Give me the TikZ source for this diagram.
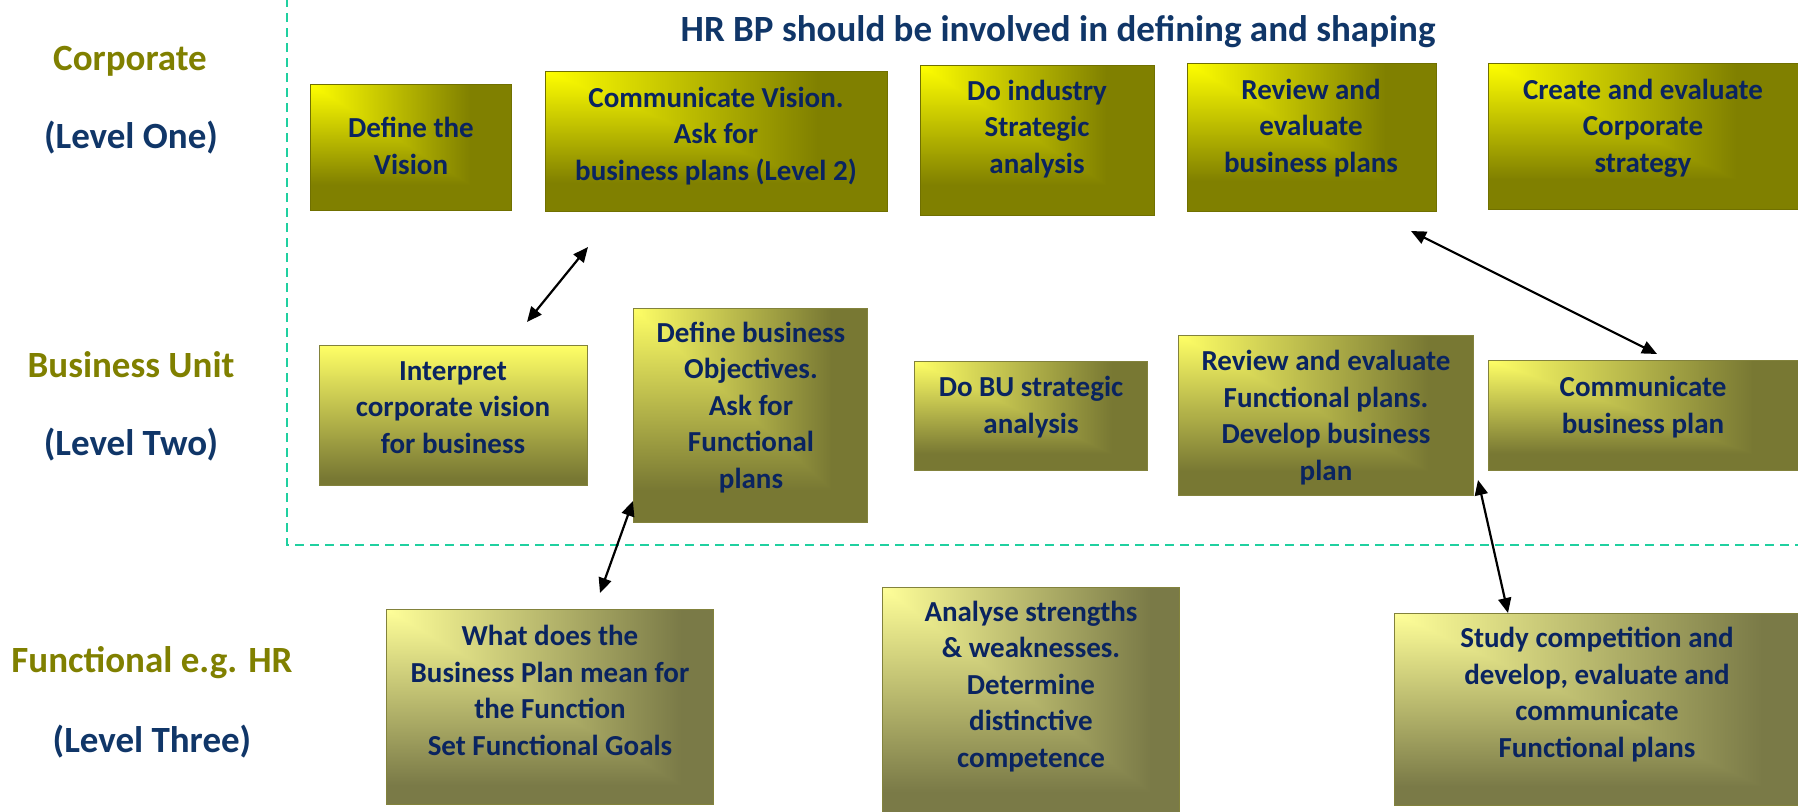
\documentclass[tikz,border=0pt]{standalone}
\usepackage{fontspec}
\setmainfont{Carlito}
\usetikzlibrary{arrows.meta}

% Rectangular "from corner" gradients: light at the top-left corner,
% dark along the right and bottom edges (t = max(u,v)).
\pgfdeclarefunctionalshading{cornerA}{\pgfpoint{0bp}{0bp}}{\pgfpoint{100bp}{100bp}}{}{
 75 exch sub 50 div exch 25 sub 50 div
 2 copy lt {exch} if pop
 0.8 div dup 1 gt {pop 1} if dup 0 lt {pop 0} if
 0.5 mul 1 exch sub dup 0
}
\pgfdeclarefunctionalshading{cornerB}{\pgfpoint{0bp}{0bp}}{\pgfpoint{100bp}{100bp}}{}{
 75 exch sub 50 div exch 25 sub 50 div
 2 copy lt {exch} if pop
 0.85 div dup 1 gt {pop 1} if dup 0 lt {pop 0} if
 dup 0.53 mul 1 exch sub
 exch 0.2 mul 0.4 exch sub
 exch dup 3 -1 roll
}
\pgfdeclarefunctionalshading{cornerC}{\pgfpoint{0bp}{0bp}}{\pgfpoint{100bp}{100bp}}{}{
 75 exch sub 50 div exch 25 sub 50 div
 2 copy lt {exch} if pop
 0.9 div dup 1 gt {pop 1} if dup 0 lt {pop 0} if
 dup 0.52 mul 1 exch sub
 exch 0.32 mul 0.6 exch sub
 exch dup 3 -1 roll
}
% Top-to-bottom variant of the level-two colours
\pgfdeclarefunctionalshading{vertB}{\pgfpoint{0bp}{0bp}}{\pgfpoint{100bp}{100bp}}{}{
 75 exch sub 50 div exch pop
 0.95 div dup 1 gt {pop 1} if dup 0 lt {pop 0} if
 dup 0.53 mul 1 exch sub
 exch 0.2 mul 0.4 exch sub
 exch dup 3 -1 roll
}

\definecolor{olivetxt}{RGB}{128,128,0}
\definecolor{navytxt}{RGB}{16,54,104}
\definecolor{boxtxt}{RGB}{10,36,96}
\definecolor{teal}{RGB}{32,208,160}
\definecolor{edgeA}{RGB}{112,112,0}
\definecolor{edgeB}{RGB}{130,130,60}

\begin{document}
\begin{tikzpicture}[x=1pt,y=-1pt,
  boxA/.style={rectangle, anchor=north west, inner sep=0pt, outer sep=0pt,
    shading=cornerA, draw=edgeA, line width=0.8pt},
  boxB/.style={rectangle, anchor=north west, inner sep=0pt, outer sep=0pt,
    shading=cornerB, draw=edgeB, line width=0.6pt},
  boxV/.style={boxB, shading=vertB},
  boxC/.style={rectangle, anchor=north west, inner sep=0pt, outer sep=0pt,
    shading=cornerC, draw=edgeB, line width=0.6pt},
  % positioned by the baseline of the last line
  txt/.style={anchor=base, align=center, inner sep=0pt, text=boxtxt,
    font=\fontsize{29}{36.5}\selectfont\bfseries},
  lvl/.style={anchor=base, inner sep=0pt,
    font=\fontsize{37}{44}\selectfont\bfseries},
  biarrow/.style={draw=black, line width=2.2pt,
    {Triangle[length=15pt,width=13pt]}-{Triangle[length=15pt,width=13pt]}},
  hrline/.style={draw=teal, line width=2.4pt, dash pattern=on 9pt off 6pt}
]
\useasboundingbox (0,0) rectangle (1798,811);

% region where the HR business partner takes part
\draw[hrline] (287,-2) -- (287,545) -- (1802,545);

\node[lvl, text=navytxt] (title) at (1058,41)
  {HR BP should be involved in defining and shaping};

% level labels
\node[lvl, text=olivetxt] (corp) at (130,70) {Corporate};
\node[lvl, text=navytxt] (l1) at (131,148) {(Level One)};
\node[lvl, text=olivetxt] (bu) at (131,377) {Business Unit};
\node[lvl, text=navytxt] (l2) at (131,455) {(Level Two)};
\node[lvl, text=olivetxt] (func) at (152,672) {Functional e.g. HR};
\node[lvl, text=navytxt] (l3) at (152,752) {(Level Three)};

% level one
\node[boxA, minimum width=201pt, minimum height=126pt] (b1) at (310,84) {};
\node[boxA, minimum width=342pt, minimum height=140pt] (b2) at (545,71) {};
\node[boxA, minimum width=234pt, minimum height=150pt] (b3) at (920,65) {};
\node[boxA, minimum width=249pt, minimum height=148pt] (b4) at (1187,63) {};
\node[boxA, minimum width=312pt, minimum height=146pt] (b5) at (1488,63) {};
\node[txt] (t1) at (411,174) {Define the\\Vision};
\node[txt] (t2) at (716,180) {Communicate Vision.\\Ask for\\business plans (Level 2)};
\node[txt] (t3) at (1037,173) {Do industry\\Strategic\\analysis};
\node[txt] (t4) at (1311,172) {Review and\\evaluate\\business plans};
\node[txt] (t5) at (1643,172) {Create and evaluate\\Corporate\\strategy};

% level two
\node[boxV, minimum width=268pt, minimum height=140pt] (b6) at (319,345) {};
\node[boxB, minimum width=234pt, minimum height=214pt] (b7) at (633,308) {};
\node[boxB, minimum width=233pt, minimum height=109pt] (b8) at (914,361) {};
\node[boxB, minimum width=295pt, minimum height=160pt] (b9) at (1178,335) {};
\node[boxB, minimum width=312pt, minimum height=110pt] (b10) at (1488,360) {};
\node[txt] (t6) at (453,453) {Interpret\\corporate vision\\for business};
\node[txt] (t7) at (751,488) {Define business\\Objectives.\\Ask for\\Functional\\plans};
\node[txt] (t8) at (1031,433) {Do BU strategic\\analysis};
\node[txt] (t9) at (1326,480) {Review and evaluate\\Functional plans.\\Develop business\\plan};
\node[txt] (t10) at (1643,433) {Communicate\\business plan};

% level three
\node[boxC, minimum width=327pt, minimum height=195pt] (b11) at (386,609) {};
\node[boxC, minimum width=297pt, minimum height=227pt] (b12) at (882,587) {};
\node[boxC, minimum width=408pt, minimum height=192pt] (b13) at (1394,613) {};
\node[txt] (t11) at (550,755) {What does the\\Business Plan mean for\\the Function\\Set Functional Goals};
\node[txt] (t12) at (1031,767) {Analyse strengths\\\& weaknesses.\\Determine\\distinctive\\competence};
\node[txt] (t13) at (1597,757) {Study competition and\\develop, evaluate and\\communicate\\Functional plans};

% two-way links between levels
\coordinate (a1s) at (527,322);
\coordinate (a1e) at (588,247);
\coordinate (a2s) at (1411,231);
\coordinate (a2e) at (1657,354);
\coordinate (a3s) at (633,501);
\coordinate (a3e) at (600,593);
\coordinate (a4s) at (1478,480);
\coordinate (a4e) at (1508,613);
\draw[biarrow] (a1s) -- (a1e);
\draw[biarrow] (a2s) -- (a2e);
\draw[biarrow] (a3s) -- (a3e);
\draw[biarrow] (a4s) -- (a4e);
\end{tikzpicture}
\end{document}
